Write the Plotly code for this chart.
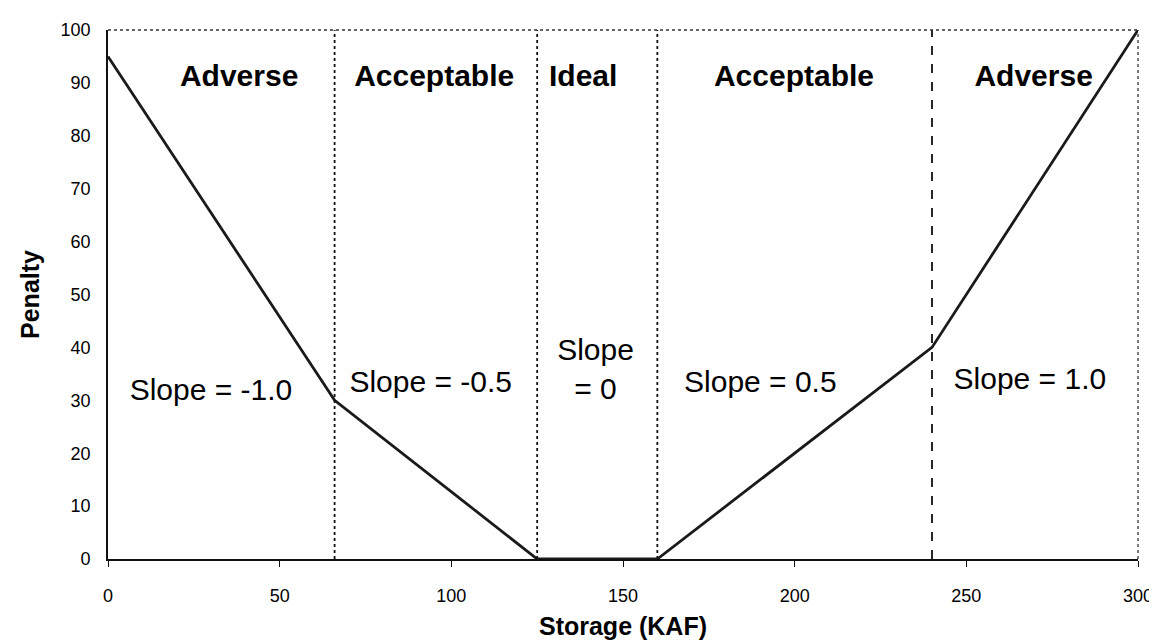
import plotly.graph_objects as go

# Penalty curve vertices
storage = [0, 66, 125, 160, 240, 300]
penalty = [95, 30, 0, 0, 40, 100]

# Zone boundaries (storage, KAF) and their line styles
boundaries = [66, 125, 160, 240]
boundary_dash = ["dot", "dot", "dot", "dash"]

# Zone labels
zone_names = ["Adverse", "Acceptable", "Ideal", "Acceptable", "Adverse"]
zone_x = [38.2, 95, 138.4, 199.8, 269.6]
zone_y = [90.8, 90.8, 90.8, 90.8, 90.8]

slope_texts = ["Slope = -1.0", "Slope = -0.5", "Slope<br>= 0", "Slope = 0.5", "Slope = 1.0"]
slope_x = [30, 94, 142, 190, 268.5]
slope_y = [31.5, 33, 35.3, 33, 33.5]

x_ticks = [0, 50, 100, 150, 200, 250, 300]
y_ticks = list(range(0, 101, 10))

FONT = "Liberation Sans, Arial, Helvetica, sans-serif"

fig = go.Figure()

fig.add_trace(go.Scatter(
    x=storage, y=penalty, mode="lines",
    line=dict(color="#1a1a1a", width=2.8),
    showlegend=False, hoverinfo="skip",
))

for b, d in zip(boundaries, boundary_dash):
    fig.add_trace(go.Scatter(
        x=[b, b], y=[0, 100], mode="lines",
        line=dict(color="#111111", width=1.8, dash=d),
        showlegend=False, hoverinfo="skip",
    ))

fig.add_trace(go.Scatter(
    x=zone_x, y=zone_y, mode="text", text=zone_names,
    textfont=dict(family=FONT, size=30, color="black", weight="bold"),
    showlegend=False, hoverinfo="skip",
))

fig.add_trace(go.Scatter(
    x=slope_x, y=slope_y, mode="text", text=slope_texts,
    textfont=dict(family=FONT, size=30, color="black"),
    showlegend=False, hoverinfo="skip",
))

# top and right frame lines (dotted)
fig.add_shape(type="line", xref="paper", yref="paper", x0=0, x1=1, y0=1, y1=1,
              line=dict(color="#333333", width=1.3, dash="dot"))
fig.add_shape(type="line", xref="paper", yref="paper", x0=1, x1=1, y0=0, y1=1,
              line=dict(color="#333333", width=1.3, dash="dot"))

fig.update_layout(
    width=1157, height=641,
    margin=dict(l=100, r=21, t=20, b=90),
    paper_bgcolor="white", plot_bgcolor="white",
    font=dict(family=FONT, color="black", size=18),
    xaxis=dict(
        range=[0, 300], tickvals=x_ticks, showgrid=False, zeroline=False,
        showline=True, linecolor="#111111", linewidth=1.6,
        ticks="outside", ticklen=6, tickcolor="#111111",
        tickfont=dict(size=18), ticklabelstandoff=14,
        title=dict(text="<b>Storage (KAF)</b>", font=dict(size=25), standoff=12),
    ),
    yaxis=dict(
        range=[0, 100], tickvals=y_ticks, showgrid=False, zeroline=False,
        showline=True, linecolor="#111111", linewidth=1.6,
        ticks="", tickfont=dict(size=18), ticklabelstandoff=12,
        title=dict(text="<b>Penalty</b>", font=dict(size=25), standoff=14),
    ),
)

fig.write_html("out.html")
